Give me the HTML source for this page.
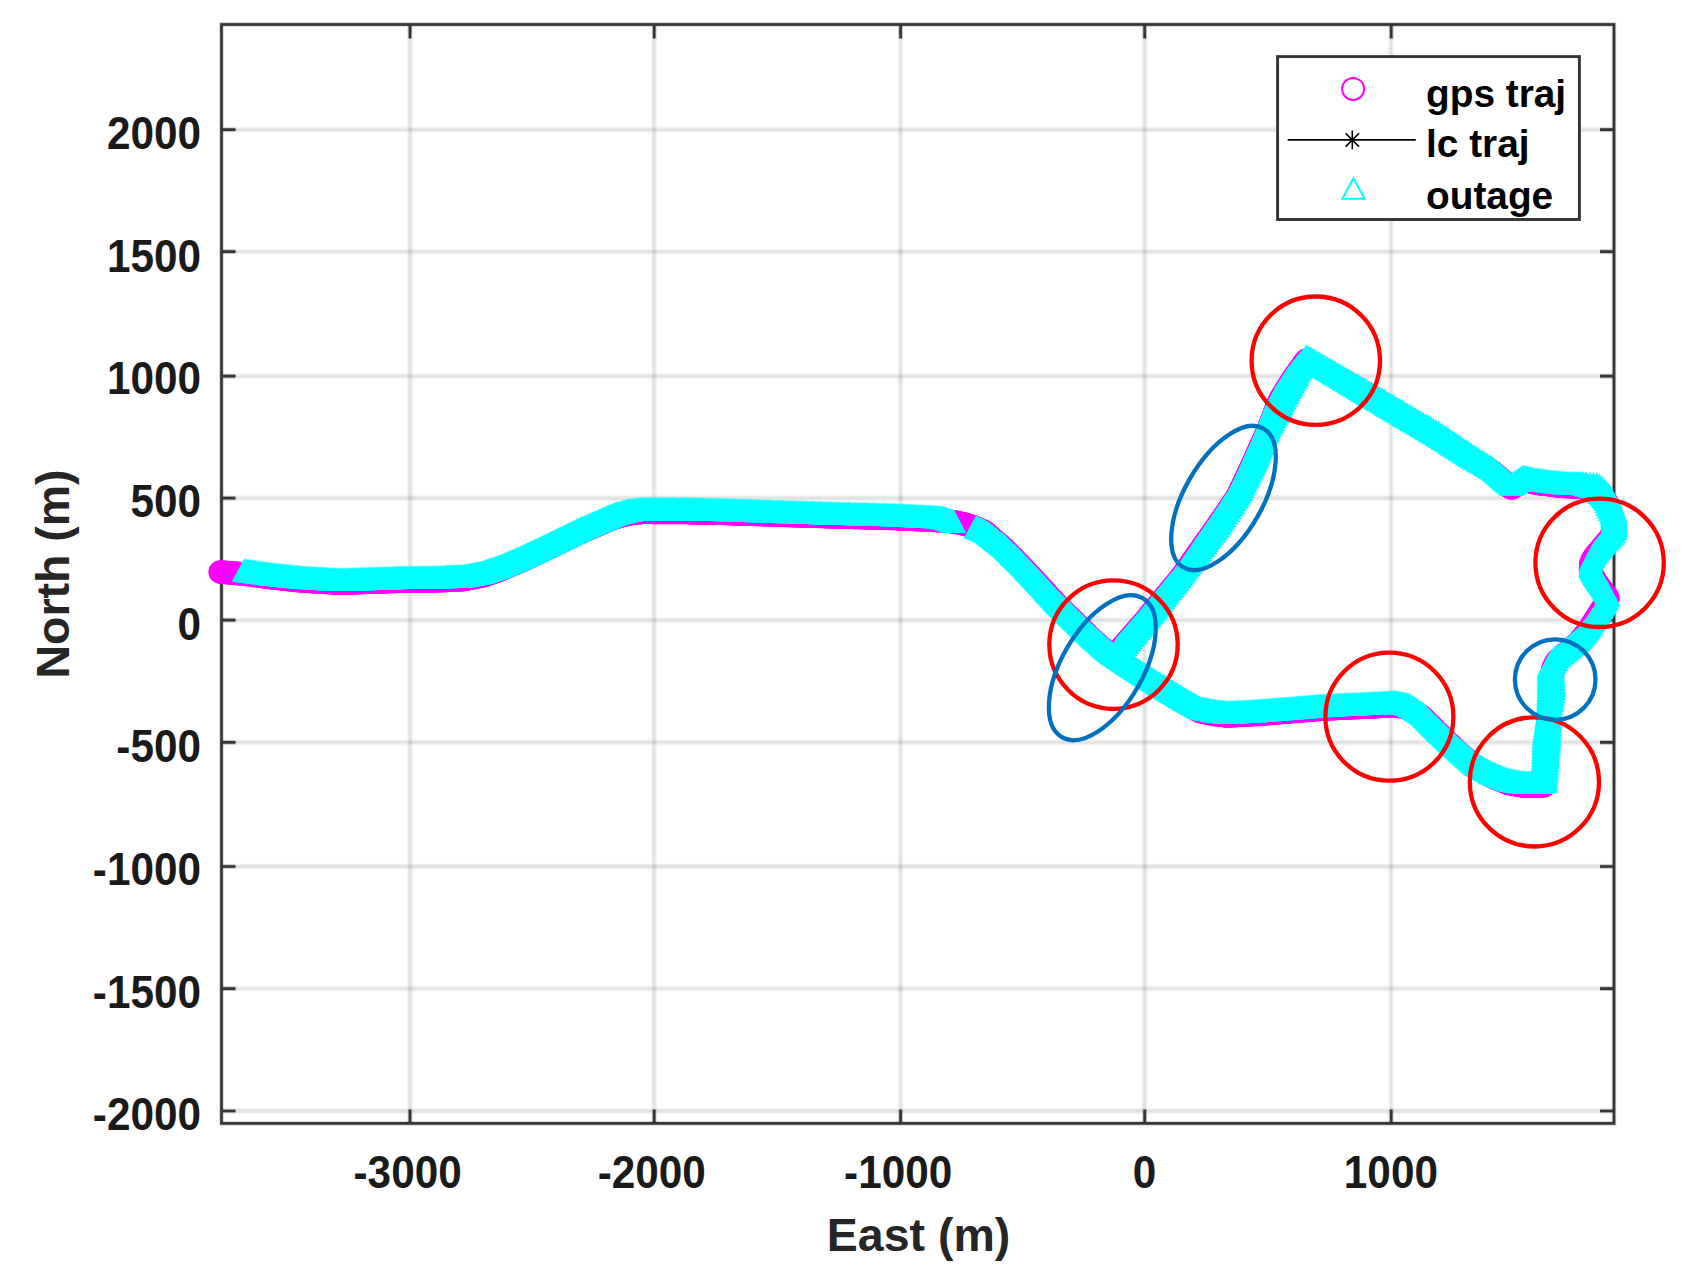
<!DOCTYPE html>
<html lang="en"><head><meta charset="utf-8"><title>trajectory</title>
<style>
html,body{margin:0;padding:0;background:#fff;}
body{width:1691px;height:1284px;overflow:hidden;}
svg{display:block;}
text{font-family:"Liberation Sans",sans-serif;font-weight:bold;fill:#262626;}
.tk{font-size:42.3px;fill:#1a1a1a;}
.lb{font-size:46.5px;}
.lg{font-size:38.8px;fill:#000;}
</style></head><body>
<svg width="1691" height="1284" viewBox="0 0 1691 1284">
<defs>
<marker id="mc" markerUnits="userSpaceOnUse" markerWidth="26" markerHeight="26" refX="13" refY="13" viewBox="0 0 26 26" overflow="visible"><circle cx="13" cy="13" r="11.8" fill="#ff00ff"/></marker>
<marker id="mt" markerUnits="userSpaceOnUse" markerWidth="26" markerHeight="26" refX="13" refY="16" viewBox="0 0 26 26" overflow="visible"><path d="M13 0.4 L25.3 23.8 L0.7 23.8 Z" fill="#00ffff"/></marker>
<filter id="gb" x="-1%" y="-1%" width="102%" height="102%"><feGaussianBlur stdDeviation="0.9"/></filter>
</defs>
<rect width="1691" height="1284" fill="#fff"/>
<g filter="url(#gb)"><path d="M410.0 24.5V1123.4M654.2 24.5V1123.4M900.6 24.5V1123.4M1144.7 24.5V1123.4M1391.2 24.5V1123.4" stroke="#262626" stroke-opacity="0.19" stroke-width="2.8" fill="none"/><path d="M221.5 129.7H1614.0M221.5 251.6H1614.0M221.5 376.1H1614.0M221.5 498.1H1614.0M221.5 620.1H1614.0M221.5 742.4H1614.0M221.5 866.5H1614.0M221.5 988.6H1614.0M221.5 1111.0H1614.0" stroke="#262626" stroke-opacity="0.19" stroke-width="2.8" fill="none"/></g>
<g fill="none" stroke="#262626" stroke-opacity="0.2" stroke-width="4.6"><path d="M410.0 1123.4v-14M410.0 24.5v14M654.2 1123.4v-14M654.2 24.5v14M900.6 1123.4v-14M900.6 24.5v14M1144.7 1123.4v-14M1144.7 24.5v14M1391.2 1123.4v-14M1391.2 24.5v14M221.5 129.7h14M1614.0 129.7h-14M221.5 251.6h14M1614.0 251.6h-14M221.5 376.1h14M1614.0 376.1h-14M221.5 498.1h14M1614.0 498.1h-14M221.5 620.1h14M1614.0 620.1h-14M221.5 742.4h14M1614.0 742.4h-14M221.5 866.5h14M1614.0 866.5h-14M221.5 988.6h14M1614.0 988.6h-14M221.5 1111.0h14M1614.0 1111.0h-14"/><rect x="221.5" y="24.5" width="1392.5" height="1098.9"/></g>
<g fill="none" stroke="#363636" stroke-opacity="1" stroke-width="2.7"><path d="M410.0 1123.4v-14M410.0 24.5v14M654.2 1123.4v-14M654.2 24.5v14M900.6 1123.4v-14M900.6 24.5v14M1144.7 1123.4v-14M1144.7 24.5v14M1391.2 1123.4v-14M1391.2 24.5v14M221.5 129.7h14M1614.0 129.7h-14M221.5 251.6h14M1614.0 251.6h-14M221.5 376.1h14M1614.0 376.1h-14M221.5 498.1h14M1614.0 498.1h-14M221.5 620.1h14M1614.0 620.1h-14M221.5 742.4h14M1614.0 742.4h-14M221.5 866.5h14M1614.0 866.5h-14M221.5 988.6h14M1614.0 988.6h-14M221.5 1111.0h14M1614.0 1111.0h-14"/><rect x="221.5" y="24.5" width="1392.5" height="1098.9"/></g>
<text class="tk" transform="translate(201 149.2) scale(1 1.1)" text-anchor="end">2000</text>
<text class="tk" transform="translate(201 271.8) scale(1 1.1)" text-anchor="end">1500</text>
<text class="tk" transform="translate(201 394.4) scale(1 1.1)" text-anchor="end">1000</text>
<text class="tk" transform="translate(201 517.1) scale(1 1.1)" text-anchor="end">500</text>
<text class="tk" transform="translate(201 639.7) scale(1 1.1)" text-anchor="end">0</text>
<text class="tk" transform="translate(201 762.3) scale(1 1.1)" text-anchor="end">-500</text>
<text class="tk" transform="translate(201 885.0) scale(1 1.1)" text-anchor="end">-1000</text>
<text class="tk" transform="translate(201 1007.6) scale(1 1.1)" text-anchor="end">-1500</text>
<text class="tk" transform="translate(201 1130.2) scale(1 1.1)" text-anchor="end">-2000</text>
<text class="tk" transform="translate(407.6 1188) scale(1 1.1)" text-anchor="middle">-3000</text>
<text class="tk" transform="translate(651.8 1188) scale(1 1.1)" text-anchor="middle">-2000</text>
<text class="tk" transform="translate(898.2 1188) scale(1 1.1)" text-anchor="middle">-1000</text>
<text class="tk" transform="translate(1144.4 1188) scale(1 1.1)" text-anchor="middle">0</text>
<text class="tk" transform="translate(1390.9 1188) scale(1 1.1)" text-anchor="middle">1000</text>
<text class="lb" x="918.5" y="1251.2" text-anchor="middle">East (m)</text>
<text class="lb" transform="translate(68.8 574) rotate(-90)" text-anchor="middle">North (m)</text>
<polyline points="220.2,572.0 221.7,572.1 223.2,572.3 224.7,572.4 226.2,572.5 227.7,572.6 229.2,572.8 230.7,572.9 232.2,573.0 233.7,573.1 235.1,573.3 236.6,573.4 238.1,573.5 239.6,573.6 241.1,573.8 242.6,573.9 244.1,574.0 245.6,574.2 247.1,574.4 248.6,574.6 250.1,574.8 251.5,575.0 253.0,575.2 254.5,575.4 256.0,575.6 257.5,575.8 259.0,576.0 260.5,576.2 262.0,576.4 263.4,576.6 264.9,576.8 266.4,577.0 267.9,577.2 269.4,577.4 270.9,577.6 272.4,577.8 273.9,577.9 275.3,578.1 276.8,578.3 278.3,578.4 279.8,578.6 281.3,578.7 282.8,578.9 284.3,579.1 285.8,579.2 287.3,579.4 288.8,579.6 290.3,579.7 291.8,579.9 293.2,580.1 294.7,580.2 296.2,580.4 297.7,580.5 299.2,580.7 300.7,580.8 302.2,580.9 303.7,581.0 305.2,581.1 306.7,581.2 308.2,581.3 309.7,581.4 311.2,581.5 312.7,581.6 314.2,581.7 315.7,581.7 317.2,581.8 318.7,581.9 320.2,582.0 321.7,582.1 323.2,582.2 324.7,582.3 326.2,582.4 327.7,582.5 329.1,582.5 330.6,582.6 332.1,582.7 333.6,582.8 335.1,582.9 336.6,583.0 338.1,583.1 339.6,583.2 341.1,583.2 342.6,583.1 344.1,583.1 345.6,583.0 347.1,583.0 348.6,582.9 350.1,582.9 351.6,582.8 353.1,582.8 354.6,582.7 356.1,582.7 357.6,582.6 359.1,582.6 360.6,582.5 362.1,582.5 363.6,582.4 365.1,582.4 366.6,582.3 368.1,582.3 369.6,582.2 371.1,582.2 372.6,582.1 374.1,582.1 375.6,582.0 377.1,582.0 378.6,581.9 380.1,581.9 381.6,581.8 383.1,581.8 384.6,581.7 386.1,581.7 387.6,581.6 389.1,581.6 390.6,581.5 392.1,581.5 393.6,581.4 395.1,581.4 396.6,581.3 398.1,581.3 399.6,581.2 401.1,581.2 402.6,581.2 404.1,581.1 405.6,581.1 407.1,581.1 408.6,581.1 410.1,581.1 411.6,581.1 413.1,581.0 414.6,581.0 416.1,581.0 417.6,581.0 419.1,581.0 420.6,580.9 422.1,580.9 423.6,580.9 425.1,580.9 426.6,580.9 428.1,580.8 429.6,580.8 431.1,580.8 432.6,580.8 434.1,580.8 435.6,580.8 437.1,580.7 438.6,580.7 440.1,580.7 441.6,580.6 443.1,580.5 444.6,580.5 446.1,580.4 447.6,580.3 449.1,580.2 450.6,580.2 452.1,580.1 453.6,580.0 455.1,579.9 456.6,579.9 458.1,579.8 459.6,579.7 461.1,579.6 462.6,579.6 464.1,579.5 465.5,579.2 467.0,578.9 468.5,578.6 470.0,578.3 471.4,578.1 472.9,577.8 474.4,577.5 475.8,577.2 477.3,576.9 478.8,576.6 480.3,576.3 481.7,576.1 483.2,575.6 484.6,575.1 486.0,574.7 487.4,574.2 488.9,573.7 490.3,573.2 491.7,572.8 493.1,572.3 494.5,571.8 496.0,571.3 497.4,570.9 498.8,570.4 500.2,569.9 501.6,569.3 503.0,568.7 504.4,568.1 505.7,567.5 507.1,566.9 508.5,566.3 509.9,565.7 511.2,565.1 512.6,564.5 514.0,564.0 515.4,563.4 516.8,562.8 518.1,562.2 519.5,561.6 520.9,561.0 522.3,560.4 523.6,559.7 525.0,559.1 526.3,558.4 527.7,557.8 529.0,557.1 530.4,556.5 531.7,555.9 533.1,555.2 534.4,554.6 535.8,553.9 537.2,553.3 538.5,552.6 539.9,552.0 541.2,551.3 542.6,550.7 543.9,550.0 545.3,549.4 546.6,548.7 548.0,548.1 549.3,547.4 550.7,546.8 552.0,546.1 553.4,545.4 554.7,544.8 556.1,544.1 557.4,543.5 558.8,542.8 560.1,542.2 561.5,541.5 562.8,540.9 564.2,540.2 565.5,539.5 566.9,538.9 568.2,538.2 569.6,537.6 570.9,536.9 572.2,536.3 573.6,535.6 574.9,535.0 576.3,534.3 577.6,533.6 579.0,533.0 580.4,532.3 581.7,531.8 583.1,531.2 584.5,530.6 585.9,530.0 587.2,529.4 588.6,528.8 590.0,528.2 591.4,527.6 592.8,527.0 594.1,526.4 595.5,525.8 596.9,525.3 598.3,524.7 599.7,524.1 601.0,523.5 602.4,522.9 603.8,522.3 605.2,521.7 606.5,521.1 607.9,520.5 609.3,519.9 610.7,519.3 612.1,518.8 613.4,518.2 614.8,517.6 616.3,517.2 617.7,516.8 619.2,516.4 620.6,516.0 622.1,515.6 623.5,515.2 624.9,514.8 626.4,514.4 627.8,514.0 629.3,513.8 630.8,513.7 632.3,513.5 633.8,513.3 635.3,513.1 636.8,512.9 638.3,512.8 639.8,512.6 641.2,512.4 642.7,512.3 644.2,512.3 645.7,512.3 647.2,512.3 648.7,512.3 650.2,512.3 651.7,512.3 653.2,512.4 654.7,512.4 656.2,512.4 657.7,512.4 659.2,512.4 660.7,512.4 662.2,512.4 663.7,512.4 665.2,512.4 666.7,512.4 668.2,512.4 669.7,512.4 671.2,512.4 672.7,512.4 674.2,512.4 675.7,512.5 677.2,512.5 678.7,512.5 680.2,512.5 681.7,512.5 683.2,512.5 684.7,512.5 686.2,512.5 687.7,512.5 689.2,512.6 690.7,512.6 692.2,512.6 693.7,512.7 695.2,512.7 696.7,512.7 698.2,512.8 699.7,512.8 701.2,512.8 702.7,512.8 704.2,512.9 705.7,512.9 707.2,512.9 708.7,513.0 710.2,513.0 711.7,513.0 713.2,513.1 714.7,513.1 716.2,513.1 717.7,513.2 719.2,513.2 720.7,513.2 722.2,513.3 723.7,513.3 725.2,513.4 726.7,513.4 728.2,513.5 729.7,513.5 731.2,513.6 732.7,513.6 734.2,513.7 735.7,513.7 737.2,513.8 738.7,513.8 740.2,513.9 741.7,513.9 743.2,514.0 744.7,514.0 746.2,514.1 747.7,514.1 749.2,514.2 750.7,514.2 752.2,514.2 753.7,514.3 755.2,514.3 756.7,514.4 758.2,514.4 759.7,514.5 761.2,514.5 762.7,514.6 764.2,514.6 765.7,514.7 767.2,514.7 768.7,514.8 770.2,514.8 771.7,514.9 773.2,514.9 774.7,515.0 776.2,515.0 777.7,515.1 779.2,515.1 780.7,515.2 782.2,515.2 783.7,515.3 785.2,515.3 786.7,515.4 788.2,515.4 789.7,515.5 791.2,515.5 792.7,515.6 794.2,515.6 795.7,515.7 797.2,515.7 798.7,515.8 800.2,515.8 801.7,515.9 803.2,515.9 804.7,516.0 806.2,516.0 807.7,516.0 809.2,516.1 810.7,516.1 812.2,516.2 813.7,516.2 815.2,516.3 816.7,516.3 818.2,516.3 819.7,516.4 821.2,516.4 822.7,516.5 824.2,516.5 825.7,516.6 827.2,516.6 828.7,516.6 830.2,516.7 831.7,516.7 833.2,516.8 834.7,516.8 836.2,516.8 837.7,516.9 839.2,516.9 840.7,517.0 842.2,517.0 843.7,517.1 845.2,517.1 846.7,517.1 848.2,517.2 849.7,517.2 851.2,517.3 852.7,517.3 854.2,517.4 855.7,517.4 857.2,517.4 858.7,517.5 860.2,517.5 861.7,517.6 863.2,517.6 864.7,517.6 866.2,517.7 867.7,517.7 869.2,517.8 870.7,517.8 872.2,517.9 873.7,517.9 875.2,517.9 876.7,518.0 878.2,518.0 879.7,518.1 881.2,518.1 882.7,518.2 884.2,518.2 885.7,518.2 887.2,518.3 888.7,518.3 890.2,518.4 891.7,518.4 893.2,518.4 894.6,518.5 896.1,518.6 897.6,518.6 899.1,518.7 900.6,518.8 902.1,518.8 903.6,518.9 905.1,519.0 906.6,519.1 908.1,519.1 909.6,519.2 911.1,519.3 912.6,519.4 914.1,519.4 915.6,519.5 917.1,519.6 918.6,519.7 920.1,519.7 921.6,519.8 923.1,519.9 924.6,519.9 926.1,520.0 927.6,520.1 929.1,520.2 930.6,520.2 932.1,520.3 933.6,520.4 935.1,520.5 936.6,520.5 938.1,520.6 939.6,520.7 941.1,520.8 942.5,520.9 944.0,521.0 945.4,521.1 946.9,521.2 948.3,521.3 949.7,521.5 951.1,521.6 952.5,521.8 953.9,521.9 955.3,522.2 956.8,522.5 958.3,522.8 959.8,523.1 961.3,523.5 962.8,523.8 964.3,524.1 965.8,524.5 967.1,524.9 968.3,525.3 969.6,525.7 970.8,526.2 972.1,526.6 973.4,527.0 974.6,527.5 975.9,528.0 977.2,528.5 978.5,529.1 979.9,529.7 981.2,530.2 982.5,530.8 983.8,531.4 985.0,532.4 986.3,533.4 987.5,534.3 988.7,535.4 989.9,536.4 991.1,537.4 992.2,538.4 993.4,539.5 994.6,540.5 995.8,541.5 996.9,542.5 998.1,543.6 999.3,544.6 1000.5,545.6 1001.7,546.6 1002.8,547.7 1004.0,548.7 1005.1,549.8 1006.2,550.9 1007.3,552.1 1008.4,553.2 1009.5,554.3 1010.6,555.4 1011.7,556.5 1012.8,557.6 1013.9,558.7 1015.0,559.9 1016.1,561.0 1017.2,562.1 1018.3,563.2 1019.4,564.3 1020.5,565.4 1021.6,566.6 1022.6,567.7 1023.6,568.7 1024.7,569.8 1025.7,570.9 1026.7,572.0 1027.7,573.1 1028.8,574.2 1029.8,575.3 1030.8,576.4 1031.8,577.5 1032.9,578.6 1033.9,579.7 1034.9,580.8 1035.9,581.9 1037.0,583.0 1038.0,584.1 1039.0,585.2 1040.0,586.3 1041.1,587.4 1042.1,588.5 1043.1,589.6 1044.1,590.7 1045.1,591.8 1046.1,592.9 1047.1,594.0 1048.1,595.2 1049.1,596.3 1050.1,597.4 1051.1,598.5 1052.1,599.6 1053.2,600.7 1054.2,601.8 1055.2,602.9 1056.2,604.0 1057.2,605.1 1058.2,606.2 1059.3,607.3 1060.4,608.3 1061.5,609.4 1062.5,610.4 1063.6,611.4 1064.7,612.5 1065.8,613.5 1066.8,614.6 1067.9,615.6 1069.0,616.7 1070.1,617.7 1071.1,618.8 1072.2,619.8 1073.3,620.9 1074.4,621.9 1075.4,622.9 1076.5,624.0 1077.6,625.0 1078.7,626.1 1079.7,627.1 1080.8,628.2 1081.9,629.2 1083.0,630.3 1084.0,631.3 1085.1,632.4 1086.2,633.4 1087.2,634.5 1088.3,635.5 1089.4,636.6 1090.5,637.6 1091.5,638.7 1092.6,639.7 1093.7,640.7 1094.8,641.7 1096.0,642.7 1097.1,643.7 1098.2,644.7 1099.4,645.7 1100.5,646.7 1101.6,647.6 1102.7,648.6 1103.9,649.6 1105.0,650.6 1106.1,651.6 1107.3,652.6 1108.4,653.6 1109.5,654.6 1110.7,655.5 1111.9,656.3 1113.2,657.2 1114.4,658.0 1115.7,658.8 1116.9,659.7 1118.2,660.5 1119.4,661.3 1120.6,662.2 1121.9,663.0 1123.1,663.9 1124.4,664.7 1125.6,665.5 1126.9,666.4 1128.1,667.2 1129.4,668.1 1130.6,668.9 1131.9,669.7 1133.1,670.5 1134.4,671.3 1135.6,672.2 1136.9,673.0 1138.1,673.8 1139.4,674.6 1140.7,675.4 1141.9,676.3 1143.2,677.1 1144.4,677.9 1145.7,678.7 1146.9,679.5 1148.2,680.3 1149.5,681.1 1150.7,681.9 1152.0,682.7 1153.3,683.5 1154.6,684.3 1155.8,685.1 1157.1,685.9 1158.4,686.7 1159.6,687.5 1160.9,688.3 1162.2,689.1 1163.5,689.9 1164.7,690.7 1166.0,691.5 1167.3,692.3 1168.5,693.1 1169.8,693.9 1171.1,694.7 1172.4,695.4 1173.7,696.2 1175.0,697.0 1176.2,697.7 1177.5,698.5 1178.8,699.3 1180.1,700.1 1181.4,700.8 1182.7,701.6 1184.0,702.4 1185.3,703.1 1186.6,703.9 1187.9,704.6 1189.2,705.4 1190.5,706.1 1191.8,706.8 1193.1,707.6 1194.4,708.3 1195.7,709.1 1197.0,709.8 1198.3,710.5 1199.6,711.3 1201.0,711.7 1202.5,712.0 1204.0,712.3 1205.4,712.6 1206.9,712.9 1208.4,713.2 1209.9,713.5 1211.3,713.8 1212.8,714.1 1214.3,714.4 1215.7,714.6 1217.2,714.8 1218.7,715.0 1220.2,715.2 1221.7,715.3 1223.2,715.5 1224.7,715.7 1226.2,715.9 1227.7,716.0 1229.2,715.9 1230.7,715.8 1232.1,715.7 1233.6,715.7 1235.1,715.6 1236.6,715.5 1238.1,715.4 1239.6,715.3 1241.1,715.3 1242.6,715.2 1244.1,715.1 1245.6,715.0 1247.1,714.9 1248.6,714.9 1250.1,714.8 1251.6,714.7 1253.1,714.6 1254.6,714.5 1256.1,714.4 1257.6,714.3 1259.1,714.1 1260.6,714.0 1262.1,713.9 1263.6,713.8 1265.1,713.7 1266.6,713.6 1268.1,713.5 1269.6,713.4 1271.1,713.3 1272.6,713.2 1274.1,713.1 1275.6,712.9 1277.1,712.8 1278.5,712.7 1280.0,712.6 1281.5,712.4 1283.0,712.3 1284.5,712.2 1286.0,712.1 1287.5,712.0 1289.0,711.8 1290.5,711.7 1292.0,711.6 1293.5,711.5 1295.0,711.4 1296.5,711.2 1298.0,711.1 1299.5,711.0 1301.0,710.9 1302.5,710.7 1304.0,710.6 1305.5,710.5 1307.0,710.4 1308.4,710.3 1309.9,710.1 1311.4,710.0 1312.9,709.9 1314.4,709.8 1315.9,709.7 1317.4,709.5 1318.9,709.4 1320.4,709.3 1321.9,709.2 1323.4,709.0 1324.9,709.0 1326.4,708.9 1327.9,708.8 1329.4,708.8 1330.9,708.7 1332.4,708.6 1333.9,708.6 1335.4,708.5 1336.9,708.4 1338.4,708.3 1339.9,708.3 1341.4,708.2 1342.9,708.1 1344.4,708.1 1345.9,708.0 1347.4,707.9 1348.9,707.9 1350.4,707.8 1351.9,707.7 1353.4,707.7 1354.9,707.6 1356.4,707.5 1357.9,707.5 1359.4,707.4 1360.9,707.3 1362.4,707.3 1363.9,707.2 1365.4,707.1 1366.9,707.1 1368.4,707.0 1369.9,706.9 1371.3,706.9 1372.8,706.8 1374.3,706.7 1375.8,706.7 1377.3,706.6 1378.8,706.5 1380.3,706.4 1381.8,706.3 1383.3,706.2 1384.8,706.2 1386.3,706.1 1387.8,706.0 1389.3,705.9 1390.8,705.8 1392.3,705.7 1393.8,705.7 1395.3,705.7 1396.8,705.9 1398.3,706.2 1399.7,706.5 1401.2,706.7 1402.7,707.0 1404.2,707.3 1405.6,707.6 1407.1,707.8 1408.5,708.3 1409.8,709.1 1411.0,709.9 1412.3,710.7 1413.6,711.5 1414.8,712.3 1416.1,713.1 1417.4,713.9 1418.7,714.7 1419.9,715.5 1421.2,716.3 1422.4,717.3 1423.4,718.3 1424.5,719.4 1425.5,720.4 1426.6,721.5 1427.7,722.6 1428.7,723.6 1429.8,724.7 1430.8,725.7 1431.9,726.8 1433.0,727.9 1434.0,728.9 1435.1,730.0 1436.1,731.0 1437.2,732.1 1438.3,733.2 1439.3,734.2 1440.4,735.3 1441.5,736.3 1442.6,737.3 1443.7,738.4 1444.7,739.4 1445.8,740.4 1446.9,741.5 1448.0,742.5 1449.1,743.6 1450.2,744.6 1451.3,745.6 1452.3,746.7 1453.4,747.7 1454.5,748.7 1455.6,749.8 1456.7,750.8 1457.8,751.8 1458.9,752.8 1460.0,753.8 1461.2,754.8 1462.3,755.8 1463.4,756.7 1464.6,757.7 1465.7,758.7 1466.8,759.7 1468.0,760.7 1469.1,761.7 1470.2,762.7 1471.4,763.6 1472.5,764.6 1473.6,765.6 1474.7,766.6 1475.9,767.6 1477.2,768.3 1478.5,769.1 1479.8,769.8 1481.1,770.5 1482.4,771.3 1483.7,772.0 1485.0,772.8 1486.3,773.5 1487.6,774.2 1488.9,775.0 1490.2,775.7 1491.5,776.5 1492.9,777.1 1494.3,777.7 1495.7,778.3 1497.0,778.8 1498.4,779.4 1499.8,779.9 1501.2,780.5 1502.6,781.0 1504.0,781.6 1505.4,782.1 1506.8,782.7 1508.2,783.3 1509.6,783.6 1511.1,783.9 1512.6,784.2 1514.1,784.4 1515.5,784.7 1517.0,784.9 1518.5,785.2 1520.0,785.4 1521.5,785.7 1522.9,785.9 1524.4,786.2 1525.9,786.3 1527.4,786.2 1528.9,786.2 1530.4,786.2 1531.9,786.1 1533.4,786.1 1534.9,786.0 1536.4,786.0 1537.9,786.0 1539.4,785.9 1540.9,785.9 1542.4,785.9 1543.9,785.8 1544.5,784.9 1544.6,783.4 1544.6,781.9 1544.6,780.4 1544.7,778.9 1544.7,777.4 1544.8,775.9 1544.8,774.4 1544.9,772.9 1544.9,771.4 1544.9,769.9 1545.0,768.4 1545.1,766.9 1545.1,765.4 1545.2,763.9 1545.3,762.4 1545.4,760.9 1545.5,759.4 1545.6,757.9 1545.7,756.4 1545.8,754.9 1545.9,753.4 1546.0,751.9 1546.1,750.4 1546.2,748.9 1546.3,747.4 1546.4,746.0 1546.5,744.5 1546.6,743.0 1546.7,741.5 1546.8,740.0 1546.9,738.5 1547.0,737.0 1547.1,735.5 1547.2,734.0 1547.3,732.5 1547.4,731.0 1547.5,729.5 1547.6,728.0 1547.7,726.5 1547.9,725.0 1548.0,723.5 1548.1,722.0 1548.2,720.5 1548.3,719.0 1548.4,717.5 1548.5,716.0 1548.6,714.5 1548.7,713.0 1548.9,711.5 1549.0,710.1 1549.2,708.6 1549.4,707.1 1549.6,705.6 1549.8,704.1 1550.0,702.6 1550.2,701.1 1550.4,699.6 1550.6,698.2 1550.8,696.7 1551.0,695.2 1551.2,693.7 1551.4,692.2 1551.6,690.7 1551.7,689.2 1551.8,687.7 1551.8,686.2 1551.9,684.7 1552.0,683.2 1552.1,681.7 1552.1,680.2 1552.2,678.7 1552.3,677.2 1552.4,675.7 1552.4,674.2 1552.5,672.7 1552.6,671.2 1552.7,669.8 1553.1,668.3 1553.8,667.0 1554.5,665.7 1555.2,664.4 1555.9,663.1 1556.6,661.7 1557.5,660.6 1558.6,659.6 1559.8,658.6 1560.9,657.6 1562.0,656.6 1563.2,655.6 1564.3,654.6 1565.4,653.7 1566.6,652.7 1567.7,651.7 1568.9,650.8 1570.0,649.8 1571.2,648.8 1572.3,647.9 1573.4,646.9 1574.6,645.9 1575.7,645.0 1576.9,644.0 1578.0,643.0 1579.1,642.0 1580.1,640.8 1581.0,639.7 1581.9,638.5 1582.9,637.3 1583.8,636.2 1584.8,635.0 1585.7,633.8 1586.6,632.7 1587.6,631.5 1588.5,630.3 1589.3,629.0 1590.1,627.8 1590.9,626.5 1591.7,625.2 1592.5,624.0 1593.3,622.7 1594.1,621.4 1595.0,620.2 1595.8,618.9 1596.6,617.7 1597.4,616.4 1598.2,615.1 1599.0,613.9 1599.8,612.6 1600.6,611.3 1601.4,610.0 1602.2,608.8 1603.0,607.5 1603.8,606.2 1604.6,605.0 1605.4,603.7 1606.0,602.3 1606.6,601.0 1607.3,599.6 1607.9,598.3 1607.2,596.9 1606.2,595.7 1605.2,594.4 1604.2,593.1 1603.2,591.8 1602.2,590.5 1601.3,589.2 1600.4,588.0 1599.5,586.7 1598.6,585.5 1597.7,584.2 1596.8,583.0 1595.9,581.7 1595.0,580.5 1594.2,579.2 1593.7,578.0 1593.1,576.7 1592.6,575.4 1592.1,574.1 1591.6,572.8 1591.1,571.5 1590.6,570.3 1590.6,568.8 1590.7,567.3 1590.8,565.8 1590.9,564.3 1591.1,562.8 1591.8,561.5 1592.5,560.2 1593.2,558.9 1593.9,557.6 1594.7,556.3 1595.7,555.1 1596.6,554.0 1597.6,552.9 1598.6,551.7 1599.6,550.6 1600.5,549.4 1601.5,548.3 1602.5,547.2 1603.5,546.0 1604.4,544.9 1605.4,543.7 1606.4,542.6 1607.3,541.4 1608.3,540.3 1609.2,539.1 1610.2,538.0 1611.1,536.8 1611.7,535.4 1612.3,534.0 1612.9,532.6 1613.5,531.3 1613.6,529.8 1613.4,528.3 1613.3,526.9 1613.1,525.4 1612.9,523.9 1612.8,522.4 1612.6,520.9 1612.5,519.4 1612.3,517.9 1612.0,516.5 1611.4,515.0 1610.9,513.5 1610.3,512.0 1609.8,510.6 1609.2,509.1 1608.7,507.6 1608.1,506.2 1607.6,504.7 1607.0,503.2 1606.2,501.9 1605.1,500.9 1604.1,499.8 1603.0,498.8 1601.9,497.8 1600.9,496.7 1599.8,495.7 1598.7,494.6 1597.6,493.6 1596.6,492.5 1595.5,491.5 1594.1,491.0 1592.7,490.6 1591.2,490.1 1589.8,489.7 1588.4,489.2 1586.9,488.8 1585.5,488.4 1584.1,487.9 1582.6,487.5 1581.2,487.2 1579.7,487.1 1578.2,487.1 1576.7,487.0 1575.2,486.9 1573.7,486.9 1572.2,486.8 1570.7,486.7 1569.2,486.7 1567.7,486.6 1566.2,486.5 1564.7,486.5 1563.2,486.4 1561.7,486.3 1560.2,486.1 1558.7,485.9 1557.2,485.7 1555.7,485.6 1554.2,485.4 1552.8,485.2 1551.3,485.0 1549.8,484.8 1548.3,484.7 1546.8,484.5 1545.3,484.3 1543.8,484.1 1542.3,483.9 1540.8,483.8 1539.4,483.6 1537.9,483.4 1536.4,483.2 1534.9,482.8 1533.5,482.5 1532.0,482.2 1530.5,481.9 1529.1,481.5 1527.6,481.2 1526.1,480.9 1524.7,480.6 1523.2,480.4 1522.0,481.2 1520.7,482.1 1519.5,482.9 1518.2,483.7 1517.0,484.6 1515.7,485.4 1514.5,486.2 1513.2,487.1 1512.0,487.9 1510.8,487.8 1509.7,486.8 1508.5,485.8 1507.4,484.8 1506.3,483.9 1505.2,482.9 1504.0,481.9 1502.9,480.9 1501.8,479.9 1500.6,478.9 1499.5,477.9 1498.4,477.0 1497.2,476.0 1496.1,475.0 1495.0,474.0 1493.8,473.0 1492.7,472.1 1491.4,471.3 1490.1,470.5 1488.8,469.8 1487.5,469.0 1486.3,468.2 1485.0,467.4 1483.7,466.6 1482.4,465.9 1481.1,465.1 1479.8,464.3 1478.6,463.5 1477.3,462.7 1476.0,462.0 1474.7,461.2 1473.4,460.4 1472.2,459.6 1470.9,458.8 1469.6,458.0 1468.4,457.2 1467.1,456.3 1465.9,455.5 1464.6,454.7 1463.4,453.8 1462.2,453.0 1460.9,452.1 1459.7,451.3 1458.4,450.5 1457.2,449.6 1455.9,448.8 1454.7,448.0 1453.5,447.1 1452.2,446.3 1451.0,445.4 1449.7,444.6 1448.5,443.8 1447.2,442.9 1446.0,442.1 1444.7,441.3 1443.5,440.4 1442.3,439.6 1441.0,438.8 1439.7,438.0 1438.4,437.2 1437.1,436.4 1435.9,435.7 1434.6,434.9 1433.3,434.1 1432.0,433.3 1430.7,432.6 1429.4,431.8 1428.1,431.0 1426.9,430.2 1425.6,429.5 1424.3,428.7 1423.0,427.9 1421.7,427.1 1420.4,426.4 1419.2,425.6 1417.9,424.8 1416.6,424.0 1415.3,423.3 1414.0,422.5 1412.7,421.7 1411.4,421.0 1410.2,420.2 1408.9,419.4 1407.6,418.6 1406.3,417.9 1405.0,417.1 1403.7,416.3 1402.5,415.5 1401.2,414.8 1399.9,414.0 1398.6,413.2 1397.3,412.4 1396.0,411.7 1394.7,410.9 1393.5,410.1 1392.2,409.3 1390.9,408.6 1389.6,407.8 1388.3,407.0 1387.0,406.2 1385.8,405.5 1384.5,404.7 1383.2,403.9 1381.9,403.1 1380.6,402.4 1379.3,401.6 1378.0,400.8 1376.8,400.0 1375.5,399.3 1374.2,398.5 1372.9,397.7 1371.6,397.0 1370.3,396.2 1369.0,395.5 1367.7,394.7 1366.4,394.0 1365.1,393.2 1363.8,392.5 1362.5,391.8 1361.2,391.0 1359.9,390.3 1358.6,389.5 1357.3,388.8 1356.0,388.1 1354.7,387.3 1353.4,386.6 1352.0,385.9 1350.7,385.1 1349.4,384.4 1348.1,383.6 1346.8,382.9 1345.5,382.2 1344.2,381.4 1342.9,380.7 1341.6,379.9 1340.3,379.2 1339.0,378.5 1337.7,377.7 1336.4,377.0 1335.1,376.2 1333.8,375.5 1332.5,374.8 1331.2,374.0 1329.9,373.3 1328.6,372.5 1327.2,371.8 1325.9,371.1 1324.6,370.3 1323.3,369.6 1322.0,368.9 1320.7,368.1 1319.4,367.4 1318.1,366.6 1316.8,365.9 1315.5,365.2 1314.2,364.4 1312.9,363.7 1311.6,362.9 1310.3,362.2 1309.0,361.5 1307.7,360.7 1306.4,360.0 1305.5,361.3 1304.5,362.6 1303.6,363.9 1302.7,365.2 1301.8,366.5 1300.8,367.8 1299.9,369.1 1299.0,370.4 1298.1,371.7 1297.1,373.0 1296.2,374.3 1295.3,375.6 1294.4,376.9 1293.4,378.2 1292.6,379.6 1291.8,380.9 1291.0,382.1 1290.1,383.4 1289.3,384.7 1288.5,386.0 1287.7,387.3 1286.9,388.6 1286.1,389.9 1285.3,391.2 1284.5,392.5 1283.7,393.8 1282.9,395.1 1282.1,396.4 1281.3,397.7 1280.5,399.0 1279.8,400.4 1279.2,401.7 1278.7,403.1 1278.2,404.4 1277.6,405.8 1277.1,407.1 1276.5,408.4 1276.0,409.8 1275.5,411.1 1274.9,412.5 1274.4,413.8 1273.9,415.2 1273.3,416.5 1272.8,417.9 1272.3,419.2 1271.7,420.6 1271.2,421.9 1270.7,423.3 1270.1,424.6 1269.6,426.0 1269.1,427.3 1268.5,428.7 1268.0,430.0 1267.5,431.4 1266.9,432.7 1266.3,434.1 1265.7,435.4 1265.1,436.7 1264.5,438.1 1263.9,439.4 1263.3,440.8 1262.6,442.1 1262.0,443.5 1261.4,444.8 1260.8,446.1 1260.2,447.5 1259.6,448.8 1259.0,450.2 1258.4,451.5 1257.8,452.9 1257.2,454.2 1256.6,455.6 1256.0,456.9 1255.4,458.2 1254.8,459.6 1254.2,460.9 1253.6,462.3 1253.0,463.6 1252.4,464.9 1251.7,466.3 1251.1,467.6 1250.5,468.9 1249.9,470.3 1249.2,471.6 1248.6,472.9 1248.0,474.3 1247.4,475.6 1246.7,476.9 1246.1,478.3 1245.5,479.6 1244.9,480.9 1244.2,482.3 1243.6,483.6 1243.0,484.9 1242.4,486.3 1241.7,487.6 1241.1,488.9 1240.5,490.2 1239.9,491.6 1239.2,492.9 1238.6,494.2 1238.0,495.6 1237.2,496.9 1236.3,498.2 1235.4,499.5 1234.5,500.9 1233.6,502.2 1232.7,503.5 1231.8,504.8 1230.9,506.1 1230.0,507.5 1229.1,508.8 1228.2,510.1 1227.3,511.4 1226.4,512.8 1225.5,514.1 1224.6,515.4 1223.7,516.7 1222.8,518.0 1221.9,519.4 1221.0,520.7 1220.1,522.0 1219.2,523.3 1218.3,524.6 1217.4,526.0 1216.5,527.3 1215.6,528.6 1214.8,529.8 1213.9,531.0 1213.1,532.2 1212.2,533.4 1211.4,534.6 1210.5,535.8 1209.7,537.0 1208.8,538.2 1208.0,539.4 1207.1,540.6 1206.2,541.8 1205.4,543.0 1204.5,544.2 1203.7,545.4 1202.8,546.7 1202.0,547.9 1201.1,549.1 1200.3,550.3 1199.4,551.5 1198.6,552.7 1197.7,553.9 1196.9,555.1 1196.0,556.3 1195.2,557.5 1194.3,558.7 1193.5,559.9 1192.6,561.1 1191.8,562.3 1190.9,563.6 1190.1,564.8 1189.2,566.0 1188.4,567.2 1187.5,568.4 1186.7,569.6 1185.8,570.8 1185.0,572.0 1184.1,573.2 1183.3,574.4 1182.4,575.6 1181.5,576.8 1180.5,578.0 1179.6,579.2 1178.6,580.4 1177.6,581.6 1176.6,582.8 1175.6,584.0 1174.6,585.1 1173.7,586.3 1172.7,587.5 1171.7,588.7 1170.7,589.9 1169.7,591.1 1168.7,592.3 1167.7,593.5 1166.8,594.6 1165.8,595.8 1164.8,597.0 1163.8,598.2 1162.8,599.4 1161.8,600.6 1160.9,601.8 1159.9,603.0 1158.9,604.2 1157.9,605.3 1156.9,606.5 1155.9,607.7 1154.9,608.9 1154.0,610.1 1153.0,611.3 1152.0,612.5 1151.0,613.7 1150.0,614.9 1149.0,616.0 1148.1,617.2 1147.1,618.4 1146.1,619.6 1145.1,620.8 1144.1,622.0 1143.1,623.2 1142.1,624.3 1141.1,625.4 1140.1,626.6 1139.1,627.7 1138.1,628.9 1137.1,630.0 1136.1,631.2 1135.1,632.3 1134.1,633.5 1133.1,634.6 1132.1,635.8 1131.1,636.9 1130.1,638.1 1129.1,639.2 1128.1,640.3 1127.1,641.5 1126.1,642.6 1125.1,643.8 1124.2,644.9 1123.2,646.1 1122.2,647.2 1121.2,648.4 1120.2,649.5 1119.2,650.7 1118.2,651.8 1118.0,652.0" fill="none" stroke="none" marker-start="url(#mc)" marker-mid="url(#mc)" marker-end="url(#mc)"/>
<polyline points="244.1,574.0 245.6,574.2 247.1,574.4 248.6,574.6 250.1,574.8 251.5,575.0 253.0,575.2 254.5,575.4 256.0,575.6 257.5,575.8 259.0,576.0 260.5,576.2 262.0,576.4 263.4,576.6 264.9,576.8 266.4,577.0 267.9,577.2 269.4,577.4 270.9,577.6 272.4,577.8 273.9,577.9 275.3,578.1 276.8,578.3 278.3,578.4 279.8,578.6 281.3,578.7 282.8,578.9 284.3,579.1 285.8,579.2 287.3,579.4 288.8,579.6 290.3,579.7 291.8,579.9 293.2,580.1 294.7,580.2 296.2,580.4 297.7,580.5 299.2,580.7 300.7,580.8 302.2,580.9 303.7,581.0 305.2,581.1 306.7,581.2 308.2,581.3 309.7,581.4 311.2,581.5 312.7,581.6 314.2,581.7 315.7,581.7 317.2,581.8 318.7,581.9 320.2,582.0 321.7,582.1 323.2,582.2 324.7,582.3 326.2,582.4 327.7,582.5 329.1,582.5 330.6,582.6 332.1,582.7 333.6,582.8 335.1,582.9 336.6,583.0 338.1,583.1 339.6,583.2 341.1,583.2 342.6,583.1 344.1,583.1 345.6,583.0 347.1,583.0 348.6,582.9 350.1,582.9 351.6,582.8 353.1,582.8 354.6,582.7 356.1,582.7 357.6,582.6 359.1,582.6 360.6,582.5 362.1,582.5 363.6,582.4 365.1,582.4 366.6,582.3 368.1,582.3 369.6,582.2 371.1,582.2 372.6,582.1 374.1,582.1 375.6,582.0 377.1,582.0 378.6,581.9 380.1,581.9 381.6,581.8 383.1,581.8 384.6,581.7 386.1,581.7 387.6,581.6 389.1,581.6 390.6,581.5 392.1,581.5 393.6,581.4 395.1,581.4 396.6,581.3 398.1,581.3 399.6,581.2 401.1,581.2 402.6,581.2 404.1,581.1 405.6,581.1 407.1,581.1 408.6,581.1 410.1,581.1 411.6,581.1 413.1,581.0 414.6,581.0 416.1,581.0 417.6,581.0 419.1,581.0 420.6,580.9 422.1,580.9 423.6,580.9 425.1,580.9 426.6,580.9 428.1,580.8 429.6,580.8 431.1,580.8 432.6,580.8 434.1,580.8 435.6,580.8 437.1,580.7 438.6,580.7 440.1,580.7 441.6,580.6 443.1,580.5 444.6,580.5 446.1,580.4 447.6,580.3 449.1,580.2 450.6,580.2 452.1,580.1 453.6,580.0 455.1,579.9 456.6,579.9 458.1,579.8 459.6,579.7 461.1,579.6 462.6,579.6 464.1,579.5 465.5,579.2 467.0,578.9 468.5,578.6 470.0,578.3 471.4,578.1 472.9,577.8 474.4,577.5 475.8,577.2 477.3,576.9 478.8,576.6 480.3,576.3 481.7,576.1 483.2,575.6 484.6,575.1 486.0,574.7 487.4,574.2 488.9,573.7 490.3,573.2 491.7,572.8 493.1,572.3 494.5,571.8 496.0,571.3 497.4,570.9 498.8,570.4 500.2,569.9 501.6,569.3 503.0,568.7 504.4,568.1 505.7,567.5 507.1,566.9 508.5,566.3 509.9,565.7 511.2,565.1 512.6,564.5 514.0,564.0 515.4,563.4 516.8,562.8 518.1,562.2 519.5,561.6 520.9,561.0 522.3,560.4 523.6,559.7 525.0,559.1 526.3,558.4 527.7,557.8 529.0,557.1 530.4,556.5 531.7,555.9 533.1,555.2 534.4,554.6 535.8,553.9 537.2,553.3 538.5,552.6 539.9,552.0 541.2,551.3 542.6,550.7 543.9,550.0 545.3,549.4 546.6,548.7 548.0,548.1 549.3,547.4 550.7,546.8 552.0,546.1 553.4,545.4 554.7,544.8 556.1,544.1 557.4,543.5 558.8,542.8 560.1,542.2 561.5,541.5 562.8,540.9 564.2,540.2 565.5,539.5 566.9,538.9 568.2,538.2 569.6,537.6 570.9,536.9 572.2,536.3 573.6,535.6 574.9,535.0 576.3,534.3 577.6,533.6 579.0,533.0 580.4,532.3 581.7,531.8 583.1,531.2 584.5,530.6 585.9,530.0 587.2,529.4 588.6,528.8 590.0,528.2 591.4,527.6 592.8,527.0 594.1,526.4 595.5,525.8 596.9,525.3 598.3,524.7 599.7,524.1 601.0,523.5 602.4,522.9 603.8,522.3 605.2,521.7 606.5,521.1 607.9,520.5 609.3,519.9 610.7,519.3 612.1,518.8 613.4,518.2 614.8,517.6 616.3,517.2 617.7,516.8 619.2,516.4 620.6,516.0 622.1,515.6 623.5,515.2 624.9,514.8 626.4,514.4 627.8,514.0 629.3,513.8 630.8,513.7 632.3,513.5 633.8,513.3 635.3,513.1 636.8,512.9 638.3,512.8 639.8,512.6 641.2,512.4 642.7,512.3 644.2,512.3 645.7,512.3 647.2,512.3 648.7,512.3 650.2,512.3 651.7,512.3 653.2,512.4 654.7,512.4 656.2,512.4 657.7,512.4 659.2,512.4 660.7,512.4 662.2,512.4 663.7,512.4 665.2,512.4 666.7,512.4 668.2,512.4 669.7,512.4 671.2,512.4 672.7,512.4 674.2,512.4 675.7,512.5 677.2,512.5 678.7,512.5 680.2,512.5 681.7,512.5 683.2,512.5 684.7,512.5 686.2,512.5 687.7,512.5 689.2,512.6 690.7,512.6 692.2,512.6 693.7,512.7 695.2,512.7 696.7,512.7 698.2,512.8 699.7,512.8 701.2,512.8 702.7,512.8 704.2,512.9 705.7,512.9 707.2,512.9 708.7,513.0 710.2,513.0 711.7,513.0 713.2,513.1 714.7,513.1 716.2,513.1 717.7,513.2 719.2,513.2 720.7,513.2 722.2,513.3 723.7,513.3 725.2,513.4 726.7,513.4 728.2,513.5 729.7,513.5 731.2,513.6 732.7,513.6 734.2,513.7 735.7,513.7 737.2,513.8 738.7,513.8 740.2,513.9 741.7,513.9 743.2,514.0 744.7,514.0 746.2,514.1 747.7,514.1 749.2,514.2 750.7,514.2 752.2,514.2 753.7,514.3 755.2,514.3 756.7,514.4 758.2,514.4 759.7,514.5 761.2,514.5 762.7,514.6 764.2,514.6 765.7,514.7 767.2,514.7 768.7,514.8 770.2,514.8 771.7,514.9 773.2,514.9 774.7,515.0 776.2,515.0 777.7,515.1 779.2,515.1 780.7,515.2 782.2,515.2 783.7,515.3 785.2,515.3 786.7,515.4 788.2,515.4 789.7,515.5 791.2,515.5 792.7,515.6 794.2,515.6 795.7,515.7 797.2,515.7 798.7,515.8 800.2,515.8 801.7,515.9 803.2,515.9 804.7,516.0 806.2,516.0 807.7,516.0 809.2,516.1 810.7,516.1 812.2,516.2 813.7,516.2 815.2,516.3 816.7,516.3 818.2,516.3 819.7,516.4 821.2,516.4 822.7,516.5 824.2,516.5 825.7,516.6 827.2,516.6 828.7,516.6 830.2,516.7 831.7,516.7 833.2,516.8 834.7,516.8 836.2,516.8 837.7,516.9 839.2,516.9 840.7,517.0 842.2,517.0 843.7,517.1 845.2,517.1 846.7,517.1 848.2,517.2 849.7,517.2 851.2,517.3 852.7,517.3 854.2,517.4 855.7,517.4 857.2,517.4 858.7,517.5 860.2,517.5 861.7,517.6 863.2,517.6 864.7,517.6 866.2,517.7 867.7,517.7 869.2,517.8 870.7,517.8 872.2,517.9 873.7,517.9 875.2,517.9 876.7,518.0 878.2,518.0 879.7,518.1 881.2,518.1 882.7,518.2 884.2,518.2 885.7,518.2 887.2,518.3 888.7,518.3 890.2,518.4 891.7,518.4 893.2,518.4 894.6,518.5 896.1,518.6 897.6,518.6 899.1,518.7 900.6,518.8 902.1,518.8 903.6,518.9 905.1,519.0 906.6,519.1 908.1,519.1 909.6,519.2 911.1,519.3 912.6,519.4 914.1,519.4 915.6,519.5 917.1,519.6 918.6,519.7 920.1,519.7 921.6,519.8 923.1,519.9 924.6,519.9 926.1,520.0 927.6,520.1 929.1,520.2 930.6,520.2 932.1,520.3 933.6,520.4 935.1,520.5 936.6,520.5 938.1,520.6 939.6,520.7 941.1,521.0 942.5,521.4 944.0,521.7 945.4,522.1 946.9,522.5 948.3,522.9 949.7,523.5 951.1,524.0 952.5,524.6 953.9,525.1" fill="none" stroke="none" marker-start="url(#mt)" marker-mid="url(#mt)" marker-end="url(#mt)"/>
<polyline points="976.0,530.8 977.4,531.3 978.7,531.9 980.1,532.5 981.5,533.0 982.9,533.6 984.3,534.2 985.5,535.0 986.8,535.8 988.0,536.7 989.2,537.6 990.4,538.6 991.6,539.5 992.7,540.4 993.9,541.3 995.1,542.3 996.3,543.2 997.4,544.1 998.6,545.0 999.8,546.0 1001.0,546.9 1002.2,547.8 1003.3,548.8 1004.5,549.7 1005.6,550.8 1006.6,551.8 1007.7,552.9 1008.8,553.9 1009.8,555.0 1010.9,556.0 1012.0,557.1 1013.0,558.1 1014.1,559.2 1015.2,560.2 1016.2,561.3 1017.3,562.4 1018.4,563.4 1019.4,564.5 1020.5,565.5 1021.6,566.6 1022.6,567.7 1023.6,568.7 1024.7,569.8 1025.7,570.9 1026.7,572.0 1027.7,573.1 1028.8,574.2 1029.8,575.3 1030.8,576.4 1031.8,577.5 1032.9,578.6 1033.9,579.7 1034.9,580.8 1035.9,581.9 1037.0,583.0 1038.0,584.1 1039.0,585.2 1040.0,586.3 1041.1,587.4 1042.1,588.5 1043.1,589.6 1044.1,590.7 1045.1,591.8 1046.1,592.9 1047.1,594.0 1048.1,595.2 1049.1,596.3 1050.1,597.4 1051.1,598.5 1052.1,599.6 1053.2,600.7 1054.2,601.8 1055.2,602.9 1056.2,604.0 1057.2,605.1 1058.2,606.2 1059.3,607.3 1060.4,608.3 1061.5,609.4 1062.5,610.4 1063.6,611.4 1064.7,612.5 1065.8,613.5 1066.8,614.6 1067.9,615.6 1069.0,616.7 1070.1,617.7 1071.1,618.8 1072.2,619.8 1073.3,620.9 1074.4,621.9 1075.4,622.9 1076.5,624.0 1077.6,625.0 1078.7,626.1 1079.7,627.1 1080.8,628.2 1081.9,629.2 1083.0,630.3 1084.0,631.3 1085.1,632.4 1086.2,633.4 1087.2,634.5 1088.3,635.5 1089.4,636.6 1090.5,637.6 1091.5,638.7 1092.6,639.7 1093.7,640.7 1094.8,641.7 1096.0,642.7 1097.1,643.7 1098.2,644.7 1099.4,645.7 1100.5,646.7 1101.6,647.6 1102.7,648.6 1103.9,649.6 1105.0,650.6 1106.1,651.6 1107.3,652.6 1108.4,653.6 1109.5,654.6 1110.7,655.5 1111.9,656.3 1113.2,657.2 1114.4,658.0 1115.7,658.8 1116.9,659.7 1118.2,660.5 1119.4,661.3 1120.6,662.2 1121.9,663.0 1123.1,663.9 1124.4,664.7 1125.6,665.5 1126.9,666.4 1128.1,667.2 1129.4,668.1 1130.6,668.9 1131.9,669.7 1133.1,670.5 1134.4,671.3 1135.6,672.2 1136.9,673.0 1138.1,673.8 1139.4,674.6 1140.7,675.4 1141.9,676.3 1143.2,677.1 1144.4,677.9 1145.7,678.7 1146.9,679.5 1148.2,680.3 1149.5,681.1 1150.7,681.9 1152.0,682.7 1153.3,683.5 1154.6,684.3 1155.8,685.1 1157.1,685.9 1158.4,686.7 1159.6,687.5 1160.9,688.3 1162.2,689.1 1163.5,689.9 1164.7,690.7 1166.0,691.5 1167.3,692.3 1168.5,693.1 1169.8,693.9 1171.1,694.7 1172.4,695.4 1173.7,696.2 1175.0,697.0 1176.2,697.7 1177.5,698.5 1178.8,699.3 1180.1,700.1 1181.4,700.8 1182.7,701.6 1184.0,702.4 1185.3,703.1 1186.6,703.9 1187.9,704.6 1189.2,705.4 1190.5,706.1 1191.8,706.8 1193.1,707.6 1194.4,708.3 1195.7,709.1 1197.0,709.8 1198.3,710.5 1199.6,711.3 1201.0,711.7 1202.5,712.0 1204.0,712.3 1205.4,712.6 1206.9,712.9 1208.4,713.2 1209.9,713.5 1211.3,713.8 1212.8,714.1 1214.3,714.4 1215.7,714.6 1217.2,714.8 1218.7,715.0 1220.2,715.2 1221.7,715.3 1223.2,715.5 1224.7,715.7 1226.2,715.9 1227.7,716.0 1229.2,715.9 1230.7,715.8 1232.1,715.7 1233.6,715.7 1235.1,715.6 1236.6,715.5 1238.1,715.4 1239.6,715.3 1241.1,715.3 1242.6,715.2 1244.1,715.1 1245.6,715.0 1247.1,714.9 1248.6,714.9 1250.1,714.8 1251.6,714.7 1253.1,714.6 1254.6,714.5 1256.1,714.4 1257.6,714.3 1259.1,714.1 1260.6,714.0 1262.1,713.9 1263.6,713.8 1265.1,713.7 1266.6,713.6 1268.1,713.5 1269.6,713.4 1271.1,713.3 1272.6,713.2 1274.1,713.1 1275.6,712.9 1277.1,712.8 1278.5,712.7 1280.0,712.6 1281.5,712.4 1283.0,712.3 1284.5,712.2 1286.0,712.1 1287.5,712.0 1289.0,711.8 1290.5,711.7 1292.0,711.6 1293.5,711.5 1295.0,711.4 1296.5,711.2 1298.0,711.1 1299.5,711.0 1301.0,710.9 1302.5,710.7 1304.0,710.6 1305.5,710.5 1307.0,710.4 1308.4,710.3 1309.9,710.1 1311.4,710.0 1312.9,709.9 1314.4,709.8 1315.9,709.7 1317.4,709.5 1318.9,709.4 1320.4,709.3 1321.9,709.2 1323.4,709.0 1324.9,709.0 1326.4,708.9 1327.9,708.8 1329.4,708.8 1330.9,708.7 1332.4,708.6 1333.9,708.6 1335.4,708.5 1336.9,708.4 1338.4,708.3 1339.9,708.3 1341.4,708.2 1342.9,708.1 1344.4,708.1 1345.9,708.0 1347.4,707.9 1348.9,707.9 1350.4,707.8 1351.9,707.7 1353.4,707.7 1354.9,707.6 1356.4,707.5 1357.9,707.5 1359.4,707.4 1360.9,707.3 1362.4,707.3 1363.9,707.2 1365.4,707.1 1366.9,707.1 1368.4,707.0 1369.9,706.9 1371.3,706.9 1372.8,706.8 1374.3,706.7 1375.8,706.7 1377.3,706.6 1378.8,706.5 1380.3,706.4 1381.8,706.3 1383.3,706.2 1384.8,706.2 1386.3,706.1 1387.8,706.0 1389.3,705.9 1390.8,705.8 1392.3,705.7 1393.8,705.7 1395.3,705.7 1396.8,705.9 1398.3,706.2 1399.7,706.5 1401.2,706.7 1402.7,707.0 1404.2,707.3 1405.6,707.6 1407.1,707.8 1408.5,708.3 1409.8,709.1 1411.0,709.9 1412.3,710.7 1413.6,711.5 1414.8,712.3 1416.1,713.1 1417.4,713.9 1418.7,714.7 1419.9,715.5 1421.2,716.3 1422.4,717.3 1423.4,718.3 1424.5,719.4 1425.5,720.4 1426.6,721.5 1427.7,722.6 1428.7,723.6 1429.8,724.7 1430.8,725.7 1431.9,726.8 1433.0,727.9 1434.0,728.9 1435.1,730.0 1436.1,731.0 1437.2,732.1 1438.3,733.2 1439.3,734.2 1440.4,735.3 1441.5,736.3 1442.6,737.3 1443.7,738.4 1444.7,739.4 1445.8,740.4 1446.9,741.5 1448.0,742.5 1449.1,743.6 1450.2,744.6 1451.3,745.6 1452.3,746.7 1453.4,747.7 1454.5,748.7 1455.6,749.8 1456.7,750.8 1457.8,751.8 1458.9,752.8 1460.0,753.8 1461.2,754.8 1462.3,755.8 1463.4,756.7 1464.6,757.7 1465.7,758.7 1466.8,759.7 1468.0,760.7 1469.1,761.7 1470.2,762.7 1471.4,763.6 1472.5,764.6 1473.6,765.6 1474.7,766.6 1475.9,767.6 1477.2,768.3 1478.5,769.1 1479.8,769.8 1481.1,770.5 1482.4,771.3 1483.7,772.0 1485.0,772.8 1486.3,773.5 1487.6,774.2 1488.9,775.0 1490.2,775.7 1491.5,776.5 1492.9,777.1 1494.3,777.7 1495.7,778.3 1497.0,778.8 1498.4,779.4 1499.8,779.9 1501.2,780.5 1502.6,781.0 1504.0,781.6 1505.4,782.1 1506.8,782.7 1508.2,783.3 1509.6,783.6 1511.1,783.9 1512.6,784.2 1514.1,784.4 1515.5,784.7 1517.0,784.9 1518.5,785.2 1520.0,785.4 1521.5,785.7 1522.9,785.9 1524.4,786.2 1525.9,786.3 1527.5,786.2 1528.7,786.2 1530.7,786.2 1531.5,786.1 1533.8,786.1 1534.4,786.0 1537.0,786.0 1537.2,786.0 1540.1,785.9 1540.1,785.9 1543.3,785.9 1542.9,785.8 1545.6,784.9 1543.4,783.4 1545.8,781.9 1543.4,780.4 1546.1,778.9 1543.3,777.4 1546.3,775.9 1543.2,774.4 1546.6,772.9 1543.1,771.4 1546.8,769.9 1543.0,768.4 1547.1,766.9 1543.1,765.4 1547.3,763.9 1543.1,762.4 1547.6,760.9 1543.2,759.4 1547.8,757.9 1543.3,756.4 1548.1,754.9 1543.4,753.4 1548.3,751.9 1543.5,750.4 1548.6,748.9 1543.6,747.4 1548.8,746.0 1543.7,744.5 1549.1,743.0 1543.7,741.5 1549.3,740.0 1543.9,738.5 1549.5,737.0 1544.4,735.5 1549.6,734.0 1544.8,732.5 1549.6,731.0 1545.2,729.5 1549.7,728.0 1545.7,726.5 1549.8,725.0 1546.1,723.5 1549.9,722.0 1546.5,720.5 1550.0,719.0 1547.0,717.5 1550.1,716.0 1547.4,714.5 1550.1,713.0 1547.8,711.5 1550.4,710.1 1548.0,708.6 1550.9,707.1 1548.1,705.6 1551.5,704.1 1548.2,702.6 1552.1,701.1 1548.3,699.6 1552.6,698.2 1548.4,696.7 1553.2,695.2 1548.5,693.7 1553.8,692.2 1548.6,690.7 1553.9,689.2 1548.6,687.7 1553.7,686.2 1548.6,684.7 1553.5,683.2 1548.6,681.7 1553.4,680.2 1548.7,678.7 1553.2,677.2 1548.7,675.7 1553.0,674.2 1548.7,672.7 1552.8,671.2 1548.7,669.8 1553.1,668.3 1550.3,667.0 1554.5,665.7 1552.3,664.4 1555.9,663.1 1554.4,661.7 1557.5,660.6 1557.1,659.6 1559.8,658.6 1559.9,657.6 1562.0,656.6 1562.7,655.6 1564.3,654.6 1565.4,653.7 1566.6,652.7 1567.7,651.7 1568.9,650.8 1570.0,649.8 1571.2,648.8 1572.3,647.9 1573.4,646.9 1574.6,645.9 1575.7,645.0 1576.9,644.0 1578.0,643.0 1579.1,642.0 1580.1,640.8 1581.0,639.7 1581.9,638.5 1582.9,637.3 1583.8,636.2 1584.8,635.0 1585.7,633.8 1586.6,632.7 1587.6,631.5 1588.5,630.3 1589.3,629.0 1590.1,627.8 1590.9,626.5 1591.7,625.2 1592.5,624.0 1593.3,622.7 1594.1,621.4 1595.0,620.2 1595.8,618.9 1596.6,617.7 1597.4,616.4 1598.2,615.1 1599.0,613.9 1599.8,612.6 1600.6,611.3 1601.4,610.0 1602.2,608.8 1603.0,607.5 1603.8,606.2 1604.6,605.0 1605.4,603.7 1606.0,602.3 1606.6,601.0 1607.3,599.6 1607.9,598.3 1607.4,596.9 1606.6,595.7 1605.8,594.4 1605.1,593.1 1604.3,591.8 1603.6,590.5 1602.8,589.2 1601.9,588.0 1601.1,586.7 1600.3,585.5 1599.4,584.2 1598.6,583.0 1597.7,581.7 1596.9,580.5 1596.1,579.2 1595.3,578.0 1594.5,576.7 1593.8,575.4 1593.0,574.1 1592.2,572.8 1591.4,571.5 1590.7,570.3 1590.6,568.8 1590.7,567.3 1590.8,565.8 1590.9,564.3 1591.1,562.8 1591.8,561.5 1592.5,560.2 1593.2,558.9 1593.9,557.6 1594.7,556.3 1595.7,555.1 1596.6,554.0 1597.6,552.9 1598.6,551.7 1599.6,550.6 1600.5,549.4 1601.5,548.3 1602.5,547.2 1603.5,546.0 1604.5,544.9 1605.4,543.7 1606.9,542.6 1607.3,541.4 1609.2,540.3 1609.2,539.1 1611.5,538.0 1611.1,536.8 1613.5,535.4 1612.3,534.0 1615.1,532.6 1613.5,531.3 1616.2,529.8 1613.3,528.3 1616.1,526.6 1612.9,525.4 1615.9,523.4 1612.5,522.4 1615.8,520.2 1612.1,519.4 1615.7,517.0 1611.5,516.5 1614.9,513.9 1610.3,513.8 1613.8,510.7 1609.1,511.0 1612.7,507.6 1607.8,508.3 1611.6,504.4 1606.6,505.5 1610.5,501.3 1605.3,502.9 1608.6,498.7 1603.3,500.6 1606.3,496.3 1601.4,498.3 1604.1,493.9 1599.4,496.1 1601.9,491.6 1597.4,493.8 1599.6,489.2 1595.5,491.5 1596.8,487.8 1592.7,490.6 1593.3,487.5 1589.8,489.7 1589.8,487.3 1586.9,488.8 1586.3,487.0 1584.1,487.9 1582.8,486.8 1581.2,487.2 1579.7,486.7 1578.2,487.1 1576.7,486.6 1575.2,486.9 1573.7,486.6 1572.2,486.8 1570.7,486.5 1569.2,486.7 1567.7,486.5 1566.2,486.5 1564.7,486.4 1563.2,486.4 1561.7,486.3 1560.2,486.1 1558.7,485.9 1557.2,485.7 1555.7,485.6 1554.2,485.4 1552.8,485.2 1551.3,485.0 1549.8,484.8 1548.3,484.7 1546.8,484.5 1545.3,484.3 1543.8,484.1 1542.3,483.9 1540.8,483.8 1539.4,483.6 1537.9,483.4 1536.4,483.2 1534.9,482.8 1533.5,482.5 1532.0,482.2 1530.5,481.9 1529.1,481.5 1527.6,481.2 1526.1,480.9 1524.7,480.6 1523.2,480.4 1522.0,481.2 1520.7,482.1 1519.5,482.9 1518.2,483.7 1517.0,484.6 1515.7,485.4 1514.5,486.2 1513.2,487.1 1512.0,487.9 1510.8,487.8 1509.7,486.8 1508.5,485.8 1507.4,484.8 1506.3,483.9 1505.2,482.9 1504.0,481.9 1502.9,480.9 1501.8,479.9 1500.6,478.9 1499.5,477.9 1498.4,477.0 1497.2,476.0 1496.1,475.0 1495.0,474.0 1493.8,473.0 1492.7,472.1 1491.4,471.2 1490.1,470.7 1488.8,469.6 1487.5,469.3 1486.3,467.9 1485.0,467.8 1483.7,466.2 1482.4,466.4 1481.1,464.5 1479.8,465.0 1478.6,462.9 1477.3,463.6 1476.0,461.2 1474.7,462.1 1473.4,459.5 1472.2,460.7 1470.9,457.8 1469.6,459.2 1468.4,456.2 1467.1,457.6 1465.9,454.5 1464.6,456.0 1463.4,452.8 1462.2,454.4 1460.9,451.1 1459.7,452.8 1458.4,449.5 1457.2,451.2 1455.9,447.8 1454.7,449.6 1453.5,446.1 1452.2,448.0 1451.0,444.4 1449.7,446.4 1448.5,442.8 1447.2,444.8 1446.0,441.1 1444.7,443.2 1443.5,439.4 1442.3,441.6 1441.0,437.8 1439.7,440.0 1438.4,436.3 1437.1,438.5 1435.9,434.7 1434.6,436.9 1433.3,433.2 1432.0,435.4 1430.7,431.7 1429.4,433.9 1428.1,430.2 1426.9,432.3 1425.6,428.7 1424.3,430.8 1423.0,427.2 1421.7,429.3 1420.4,425.7 1419.2,427.8 1417.9,424.2 1416.6,426.2 1415.3,422.6 1414.0,424.7 1412.7,421.1 1411.4,423.2 1410.2,419.6 1408.9,421.6 1407.6,418.1 1406.3,420.1 1405.0,416.6 1403.7,418.6 1402.5,415.1 1401.2,417.0 1399.9,413.6 1398.6,415.5 1397.3,412.1 1396.0,414.0 1394.7,410.6 1393.5,412.5 1392.2,409.0 1390.9,410.9 1389.6,407.5 1388.3,409.4 1387.0,406.0 1385.8,407.9 1384.5,404.5 1383.2,406.3 1381.9,403.0 1380.6,404.8 1379.3,401.5 1378.0,403.3 1376.8,400.0 1375.5,401.7 1374.2,398.5 1372.9,400.2 1371.6,396.9 1370.3,398.7 1369.0,395.5 1367.7,397.1 1366.4,394.0 1365.1,395.5 1363.8,392.5 1362.5,393.9 1361.2,391.0 1359.9,392.4 1358.6,389.5 1357.3,390.8 1356.0,388.1 1354.7,389.2 1353.4,386.6 1352.0,387.6 1350.7,385.1 1349.4,386.0 1348.1,383.6 1346.8,384.5 1345.5,382.2 1344.2,382.9 1342.9,380.7 1341.6,381.3 1340.3,379.2 1339.0,379.7 1337.7,377.7 1336.4,378.1 1335.1,376.2 1333.8,376.6 1332.5,374.8 1331.2,375.0 1329.9,373.3 1328.6,373.4 1327.2,371.8 1325.9,371.8 1324.6,370.3 1323.3,370.2 1322.0,368.9 1320.7,368.7 1319.4,367.4 1318.1,367.1 1316.8,365.9 1315.5,365.5 1314.2,364.4 1312.9,363.9 1311.6,362.9 1310.3,362.3 1309.0,361.5 1307.7,360.8 1306.4,360.0 1305.3,361.3 1305.0,362.6 1303.1,363.9 1303.7,365.2 1300.9,366.5 1302.3,367.8 1298.7,369.1 1301.0,370.4 1296.6,371.7 1299.6,373.0 1294.4,374.3 1298.2,375.6 1292.2,376.9 1296.9,378.2 1290.1,379.6 1295.5,380.9 1288.4,382.1 1294.1,383.4 1286.7,384.7 1292.7,386.0 1285.0,387.3 1291.3,388.6 1283.3,389.9 1289.9,391.2 1281.6,392.5 1288.4,393.8 1279.9,395.1 1287.0,396.4 1278.2,397.7 1285.6,399.0 1276.6,400.4 1284.2,401.7 1275.5,403.1 1282.8,404.4 1274.4,405.8 1281.4,407.1 1273.3,408.4 1280.0,409.8 1272.3,411.1 1278.6,412.5 1271.2,413.8 1277.2,415.2 1270.1,416.5 1275.8,417.9 1269.1,419.2 1274.4,420.6 1268.0,421.9 1273.0,423.3 1266.9,424.6 1271.5,426.0 1265.9,427.3 1270.1,428.7 1264.8,430.0 1268.7,431.4 1263.7,432.7 1267.6,434.1 1262.5,435.4 1266.4,436.7 1261.3,438.1 1265.3,439.4 1260.1,440.8 1264.2,442.1 1258.8,443.5 1263.1,444.8 1257.6,446.1 1262.0,447.5 1256.4,448.8 1260.9,450.2 1255.2,451.5 1259.8,452.9 1254.0,454.2 1258.7,455.6 1252.8,456.9 1257.6,458.2 1251.6,459.6 1256.5,460.9 1250.4,462.3 1255.4,463.6 1249.2,464.9 1254.1,466.3 1247.9,467.6 1252.8,468.9 1246.7,470.3 1251.4,471.6 1245.4,472.9 1250.1,474.3 1244.2,475.6 1248.8,476.9 1242.9,478.3 1247.5,479.6 1241.7,480.9 1246.2,482.3 1240.4,483.6 1244.9,484.9 1239.2,486.3 1243.6,487.6 1237.9,488.9 1242.2,490.2 1236.7,491.6 1240.9,492.9 1235.4,494.2 1239.6,495.6 1234.0,496.9 1238.0,498.2 1232.3,499.5 1236.3,500.9 1230.5,502.2 1234.6,503.5 1228.8,504.8 1232.9,506.1 1227.1,507.5 1231.2,508.8 1225.3,510.1 1229.5,511.4 1223.6,512.8 1227.8,514.1 1221.9,515.4 1226.1,516.7 1220.1,518.0 1224.4,519.4 1218.4,520.7 1222.7,522.0 1216.7,523.3 1221.0,524.6 1214.9,526.0 1219.3,527.3 1213.2,528.6 1217.5,529.8 1211.6,531.0 1215.7,532.2 1209.9,533.4 1213.8,534.6 1208.2,535.8 1212.0,537.0 1206.6,538.2 1210.2,539.4 1204.9,540.6 1208.4,541.8 1203.3,543.0 1206.6,544.2 1201.6,545.4 1204.8,546.7 1200.0,547.9 1202.9,549.1 1198.3,550.3 1201.1,551.5 1196.6,552.7 1199.3,553.9 1195.0,555.1 1197.5,556.3 1193.3,557.5 1195.7,558.7 1191.7,559.9 1193.9,561.1 1190.0,562.3 1192.0,563.6 1188.4,564.8 1190.2,566.0 1186.7,567.2 1188.4,568.4 1185.0,569.6 1186.6,570.8 1183.4,572.0 1184.8,573.2 1181.7,574.4 1183.0,575.6 1180.0,576.8 1181.1,578.0 1178.1,579.2 1179.3,580.4 1176.1,581.6 1177.5,582.8 1174.2,584.0 1175.6,585.1 1172.2,586.3 1173.8,587.5 1170.2,588.7 1172.0,589.9 1168.3,591.1 1170.2,592.3 1166.3,593.5 1168.3,594.6 1164.4,595.8 1166.5,597.0 1162.4,598.2 1164.7,599.4 1160.4,600.6 1162.8,601.8 1158.5,603.0 1161.0,604.2 1156.5,605.3 1159.2,606.5 1154.6,607.7 1157.3,608.9 1152.6,610.1 1155.5,611.3 1150.6,612.5 1153.7,613.7 1148.7,614.9 1151.9,616.0 1146.7,617.2 1150.0,618.4 1144.8,619.6 1148.2,620.8 1142.8,622.0 1146.3,623.2 1140.8,624.3 1144.4,625.4 1138.9,626.6 1142.5,627.7 1136.9,628.9 1140.5,630.0 1134.9,631.2 1138.6,632.3 1132.9,633.5 1136.7,634.6 1131.0,635.8 1134.7,636.9 1129.0,638.1 1132.8,639.2 1127.0,640.3 1130.9,641.5 1125.1,642.6 1128.9,643.8 1123.1,644.9 1127.0,646.1 1121.1,647.2 1125.1,648.4 1119.1,649.5 1123.1,650.7 1117.2,651.8 1122.0,652.0" fill="none" stroke="none" marker-start="url(#mt)" marker-mid="url(#mt)" marker-end="url(#mt)"/>
<circle cx="1315.8" cy="360.7" r="64.2" fill="none" stroke="#ff0000" stroke-width="4.3"/>
<circle cx="1113.5" cy="644.6" r="64.2" fill="none" stroke="#ff0000" stroke-width="4.3"/>
<circle cx="1599.6" cy="562.8" r="64.2" fill="none" stroke="#ff0000" stroke-width="4.3"/>
<circle cx="1389.4" cy="716.7" r="64.0" fill="none" stroke="#ff0000" stroke-width="4.3"/>
<circle cx="1534.4" cy="781.9" r="64.6" fill="none" stroke="#ff0000" stroke-width="4.3"/>
<circle cx="1555.2" cy="679.6" r="40.3" fill="none" stroke="#0070c0" stroke-width="4.3"/>
<ellipse cx="1223.5" cy="498.0" rx="80.1" ry="38.8" transform="rotate(-60.0 1223.5 498.0)" fill="none" stroke="#0070c0" stroke-width="4.3"/>
<ellipse cx="1102.3" cy="667.7" rx="80.4" ry="40.4" transform="rotate(-59.8 1102.3 667.7)" fill="none" stroke="#0070c0" stroke-width="4.3"/>
<rect x="1277.6" y="56.6" width="301.8" height="162.9" fill="#fff" stroke="#333" stroke-width="2.9"/>
<circle cx="1353.1" cy="88.9" r="11" fill="none" stroke="#ff00ff" stroke-width="2"/>
<path d="M1287.7 139.9H1415.8" stroke="#000" stroke-width="1.8" fill="none"/>
<path d="M1352.3 130.5v18.8M1345.6 133.2l13.4 13.4M1359 133.2l-13.4 13.4" stroke="#000" stroke-width="1.6" fill="none"/>
<path d="M1353.5 178.2L1364.6 198.7H1342.4Z" fill="none" stroke="#00ffff" stroke-width="2" stroke-linejoin="miter"/>
<text class="lg" x="1426" y="106.7">gps traj</text>
<text class="lg" x="1426" y="156.6">lc traj</text>
<text class="lg" x="1426" y="208.6">outage</text>
</svg></body></html>
